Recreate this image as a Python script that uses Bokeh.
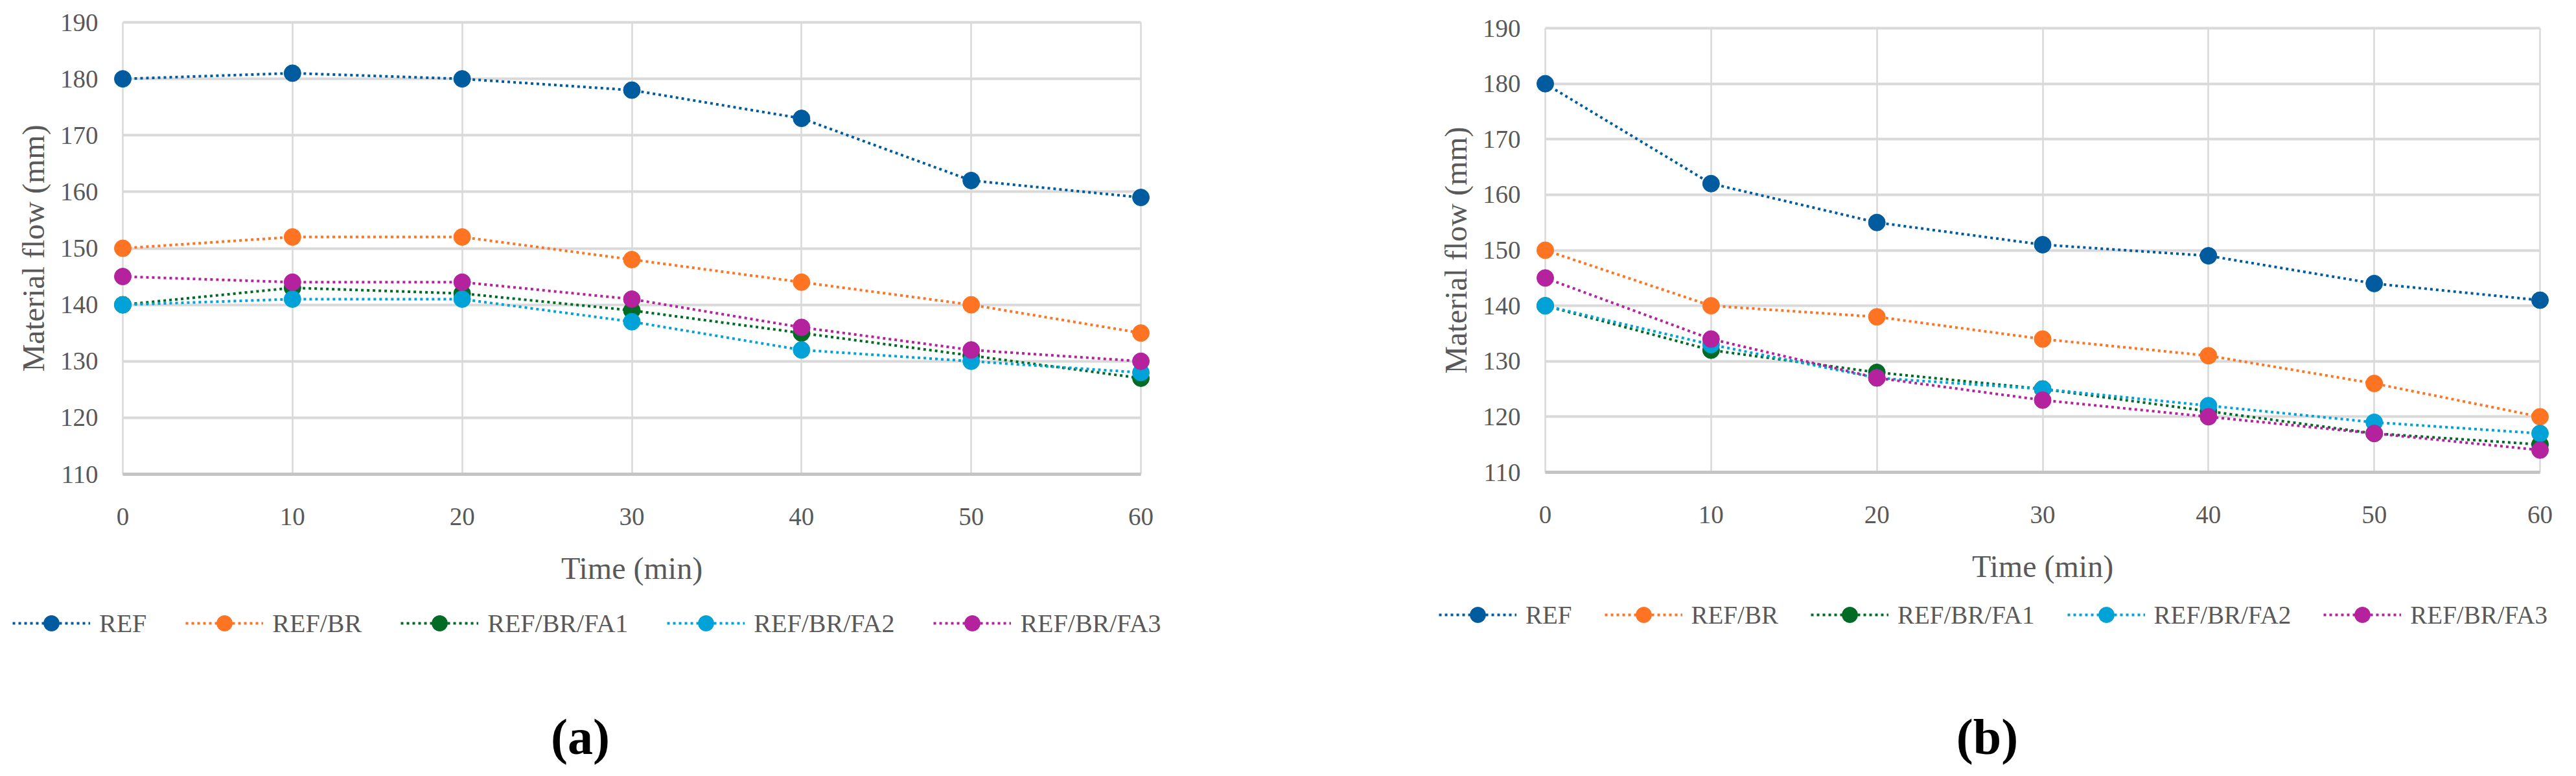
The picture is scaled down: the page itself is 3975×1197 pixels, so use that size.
from bokeh.plotting import figure
from bokeh.models import Range1d, Label, Grid, FixedTicker
from bokeh.layouts import row
from bokeh.embed import file_html
from bokeh.resources import INLINE

# data
time_min = [0, 10, 20, 30, 40, 50, 60]
series_names = ["REF", "REF/BR", "REF/BR/FA1", "REF/BR/FA2", "REF/BR/FA3"]
series_colors = ["#005C9E", "#FF7423", "#006B24", "#00A2D8", "#B4229E"]

# panel (a)
flow_a_ref = [180, 181, 180, 178, 173, 162, 159]
flow_a_br = [150, 152, 152, 148, 144, 140, 135]
flow_a_fa1 = [140, 143, 142, 139, 135, 131, 127]
flow_a_fa2 = [140, 141, 141, 137, 132, 130, 128]
flow_a_fa3 = [145, 144, 144, 141, 136, 132, 130]

# panel (b)
flow_b_ref = [180, 162, 155, 151, 149, 144, 141]
flow_b_br = [150, 140, 138, 134, 131, 126, 120]
flow_b_fa1 = [140, 132, 128, 125, 121, 117, 115]
flow_b_fa2 = [140, 133, 127, 125, 122, 119, 117]
flow_b_fa3 = [145, 134, 127, 123, 120, 117, 114]

x_ticks = [0, 10, 20, 30, 40, 50, 60]
y_ticks = [110, 120, 130, 140, 150, 160, 170, 180, 190]

FONT = "Liberation Serif"
GREY = "#595959"
GRID = "#D9D9D9"


def make_panel(series, tag, fig_w, fig_h, x0, x60, y190, y110,
               legend_left, legend_cy, legend_font, spacing, tag_cx, tag_cy):
    # the frame fills the whole figure, so legend and tag are not clipped;
    # axes sit at fixed locations inside it
    kx = (x60 - x0) / 60.0
    ky = (y110 - y190) / 80.0
    xr = Range1d(-x0 / kx, 60 + (fig_w - x60) / kx)
    yr = Range1d(110 - (fig_h - y110) / ky, 190 + y190 / ky)

    p = figure(frame_width=fig_w, frame_height=fig_h,
               min_border=0, x_range=xr, y_range=yr,
               x_axis_label="Time (min)", y_axis_label="Material flow (mm)",
               output_backend="svg", toolbar_location=None)
    p.outline_line_color = None
    p.background_fill_color = "white"
    p.border_fill_color = "white"

    p.xaxis.ticker = FixedTicker(ticks=x_ticks)
    p.yaxis.ticker = FixedTicker(ticks=y_ticks)
    p.xaxis.fixed_location = 110
    p.yaxis.fixed_location = 0
    p.xaxis.bounds = (0, 60)
    p.yaxis.bounds = (110, 190)
    for ax in (p.xaxis, p.yaxis):
        ax.axis_line_color = None
        ax.major_tick_line_color = None
        ax.minor_tick_line_color = None
        ax.major_label_text_font = FONT
        ax.major_label_text_font_size = "39px"
        ax.major_label_text_color = GREY
        ax.axis_label_text_font = FONT
        ax.axis_label_text_font_size = "48px"
        ax.axis_label_text_font_style = "normal"
        ax.axis_label_text_color = GREY
    p.xaxis.major_label_standoff = 46
    p.xaxis.axis_label_standoff = 37
    p.yaxis.major_label_standoff = 32
    p.yaxis.axis_label_standoff = 12

    p.xgrid.grid_line_color = GRID
    p.xgrid.grid_line_width = 2.5
    p.ygrid.grid_line_color = GRID
    p.ygrid.grid_line_width = 4
    base = Grid(dimension=1, ticker=FixedTicker(ticks=[110]),
                grid_line_color="#C4C4C4", grid_line_width=5)
    p.add_layout(base)
    if "cross_bounds" in Grid.properties():
        p.xgrid.cross_bounds = (110, 190)
        p.ygrid.cross_bounds = (0, 60)
        base.cross_bounds = (0, 60)

    for name, color, vals in zip(series_names, series_colors, series):
        p.line(time_min, vals, line_color=color, line_width=4,
               line_dash="4 5", legend_label=name)
        p.scatter(time_min, vals, size=26, fill_color=color,
                  line_color=color, legend_label=name)

    lg = p.legend[0]
    lg.orientation = "horizontal"
    lg.location = (legend_left, fig_h - legend_cy - 30)
    lg.glyph_width = 120
    lg.glyph_height = 60
    lg.label_standoff = 14
    lg.spacing = spacing
    lg.padding = 0
    lg.margin = 0
    lg.border_line_color = None
    lg.background_fill_alpha = 0
    lg.label_text_font = FONT
    lg.label_text_font_size = legend_font
    lg.label_text_color = GREY

    p.add_layout(Label(x=tag_cx, y=fig_h - tag_cy,
                       x_units="screen", y_units="screen", text=tag,
                       text_font=FONT, text_font_style="bold",
                       text_font_size="78px", text_color="black",
                       text_align="center", text_baseline="middle"))
    return p


p1 = make_panel([flow_a_ref, flow_a_br, flow_a_fa1, flow_a_fa2, flow_a_fa3],
                "(a)", 1960, 1181, 189, 1760, 34, 731,
                19, 961, "40px", 60, 895, 1136)
p2 = make_panel([flow_b_ref, flow_b_br, flow_b_fa1, flow_b_fa2, flow_b_fa3],
                "(b)", 1999, 1181, 424, 1959, 43, 728,
                260, 948, "39px", 50, 1106, 1136)

layout = row(p1, p2)
open("out.html", "w").write(file_html(layout, INLINE))
